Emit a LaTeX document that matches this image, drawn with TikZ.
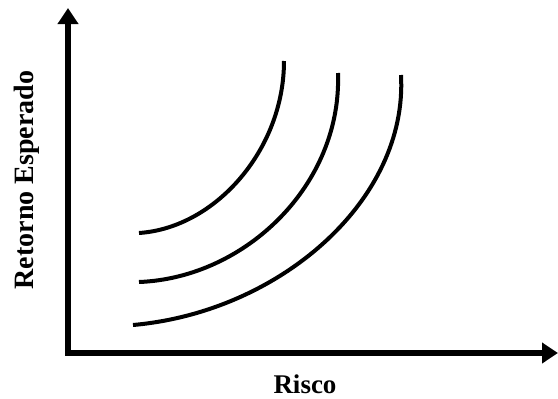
\documentclass[tikz,border=0pt]{standalone}
\usepackage{fontspec}
\setmainfont{Liberation Serif}
\usetikzlibrary{arrows.meta}
\begin{document}
\begin{tikzpicture}[x=1pt,y=-1pt,
  axis/.style={line width=6pt,-{Triangle[width=20pt,length=16pt]}},
  curve/.style={line width=4pt},
  lbl/.style={font=\bfseries\fontsize{27}{30}\selectfont,inner sep=0pt}]
\useasboundingbox (0,0) rectangle (558,399);
\coordinate (o) at (68,353);
\coordinate (ytop) at (68,8);
\coordinate (xend) at (558,353);
\draw[axis] (o) -- (ytop);
\draw[axis] ([xshift=-3pt]o) -- (xend);
\coordinate (a1) at (139,233);
\coordinate (b1) at (284,61);
\coordinate (a2) at (139,282);
\coordinate (b2) at (338,73);
\coordinate (a3) at (133,325);
\coordinate (b3) at (401,75);
\draw[curve] (a1) .. controls (215,228) and (284,150) .. (b1);
\draw[curve] (a2) .. controls (245,278) and (342,185) .. (b2);
\draw[curve] (a3) .. controls (280,312) and (408,200) .. (b3);
\node[lbl,anchor=base] (xl) at (305,393) {Risco};
\node[lbl,anchor=base,rotate=90,font=\bfseries\fontsize{28}{30}\selectfont] (yl) at (33,180) {Retorno Esperado};
\end{tikzpicture}
\end{document}
